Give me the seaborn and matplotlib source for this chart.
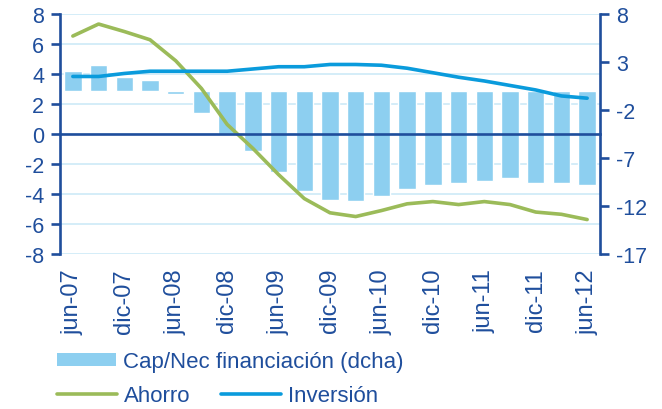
import pandas as pd
import matplotlib.pyplot as plt
import seaborn as sns
from matplotlib.lines import Line2D
from matplotlib.patches import Patch
from matplotlib.ticker import FixedLocator

# Estilo
sns.set_style("white")
plt.rcParams['font.family'] = ['Liberation Sans', 'DejaVu Sans']
plt.rcParams['axes.unicode_minus'] = False

# Datos (trimestrales, jun-07 a jun-12)
periodos = ['jun-07', 'sep-07', 'dic-07', 'mar-08', 'jun-08', 'sep-08', 'dic-08',
            'mar-09', 'jun-09', 'sep-09', 'dic-09', 'mar-10', 'jun-10', 'sep-10',
            'dic-10', 'mar-11', 'jun-11', 'sep-11', 'dic-11', 'mar-12', 'jun-12']
cap_nec = [2.1, 2.7, 1.5, 1.15, -0.28, -2.3, -4.6, -6.25, -8.45, -10.4, -11.4,
           -11.5, -10.95, -10.2, -9.8, -9.6, -9.4, -9.05, -9.6, -9.6, -9.8]
ahorro = [6.55, 7.35, 6.85, 6.3, 4.9, 3.05, 0.65, -0.95, -2.7, -4.3, -5.25,
          -5.5, -5.1, -4.65, -4.5, -4.7, -4.5, -4.7, -5.2, -5.35, -5.7]
inversion = [3.85, 3.85, 4.05, 4.2, 4.2, 4.2, 4.2, 4.35, 4.5, 4.5, 4.65,
             4.65, 4.6, 4.4, 4.1, 3.8, 3.55, 3.25, 2.95, 2.55, 2.4]

ticks_izq = list(range(-8, 9, 2))
ticks_dcha = list(range(-17, 9, 5))

df = pd.DataFrame({"periodo": periodos, "cap_nec": cap_nec,
                   "ahorro": ahorro, "inversion": inversion})
df["pos"] = range(len(df))

AZUL_OSC = "#1F4E9C"
AZUL_BARRA = "#8DCFF0"
AZUL_LINEA = "#0A9BDC"
VERDE = "#9BBB59"
GRID = "#C9E8F7"

fig = plt.figure(figsize=(6.62, 4.10), dpi=100)
ax = fig.add_axes([60 / 662, 1 - 255 / 410, 540 / 662, 239.7 / 410])

# Eje izquierdo: rejilla y escala
ax.set_ylim(-8, 8)
ax.set_yticks(ticks_izq)
ax.yaxis.grid(True, color=GRID, linewidth=1.1)
ax.xaxis.grid(False)
for s in ["top", "right", "bottom"]:
    ax.spines[s].set_visible(False)
ax.spines["left"].set_color(AZUL_OSC)
ax.spines["left"].set_linewidth(1.9)
ax.tick_params(axis="y", direction="out", length=6.5, width=1.9, color=AZUL_OSC,
               labelcolor=AZUL_OSC, labelsize=15.5, pad=5)

# Eje derecho: barras de capacidad/necesidad de financiación
ax2 = ax.twinx()
sns.barplot(data=df, x="pos", y="cap_nec", ax=ax2, color=AZUL_BARRA,
            saturation=1, width=0.68, native_scale=True, errorbar=None)
ax2.set_ylim(-17, 8)
ax2.set_yticks(ticks_dcha)
ax2.set_ylabel("")
ax2.set_xlabel("")
for s in ["top", "left", "bottom"]:
    ax2.spines[s].set_visible(False)
ax2.spines["right"].set_color(AZUL_OSC)
ax2.spines["right"].set_linewidth(1.9)
ax2.tick_params(axis="y", direction="out", length=6.5, width=1.9, color=AZUL_OSC,
                labelcolor=AZUL_OSC, labelsize=15.5, pad=5)

# Líneas de ahorro e inversión (escala izquierda)
ax3 = ax.twinx()
ax3.xaxis.set_visible(True)
sns.lineplot(data=df, x="pos", y="ahorro", ax=ax3, color=VERDE, linewidth=2.6)
sns.lineplot(data=df, x="pos", y="inversion", ax=ax3, color=AZUL_LINEA, linewidth=2.6)
ax3.set_ylim(-8, 8)
ax3.set_ylabel("")
ax3.set_xlabel("")
ax3.tick_params(axis="y", right=False, labelright=False)
for s in ["top", "left", "right"]:
    ax3.spines[s].set_visible(False)
ax3.spines["bottom"].set_position(("data", 0))
ax3.spines["bottom"].set_color(AZUL_OSC)
ax3.spines["bottom"].set_linewidth(1.9)

# Eje de categorías
ax.set_xlim(-0.5, len(periodos) - 0.5)
ax.set_xticks(df["pos"][::2], labels=periodos[::2], rotation=90)
ax.xaxis.set_minor_locator(FixedLocator([p + 0.5 for p in df["pos"][:-1]]))
ax.tick_params(axis="x", which="major", length=0, pad=10, labelsize=17,
               labelcolor=AZUL_OSC)
ax.tick_params(axis="x", which="minor", length=0)
ax3.tick_params(axis="x", which="major", length=0, labelbottom=False)
ax3.tick_params(axis="x", which="minor", direction="out", length=5, width=1.5,
                color=AZUL_OSC, labelbottom=False)

# Leyendas
fig.legend(handles=[Patch(facecolor=AZUL_BARRA, edgecolor="none")],
           labels=["Cap/Nec financiación (dcha)"], loc="center left",
           bbox_to_anchor=(57 / 662, 1 - 363 / 410), frameon=False, fontsize=16,
           handlelength=2.65, handleheight=0.5, handletextpad=0.3, borderpad=0,
           borderaxespad=0, labelcolor=AZUL_OSC)
fig.legend(handles=[Line2D([], [], color=VERDE, linewidth=2.6),
                    Line2D([], [], color=AZUL_LINEA, linewidth=2.6)],
           labels=["Ahorro", "Inversión"], ncol=2, loc="center left",
           bbox_to_anchor=(57 / 662, 1 - 397 / 410), frameon=False, fontsize=16,
           handlelength=2.7, handletextpad=0.3, columnspacing=1.4, borderpad=0,
           borderaxespad=0, labelcolor=AZUL_OSC)

fig.savefig("out.png", dpi=100)
